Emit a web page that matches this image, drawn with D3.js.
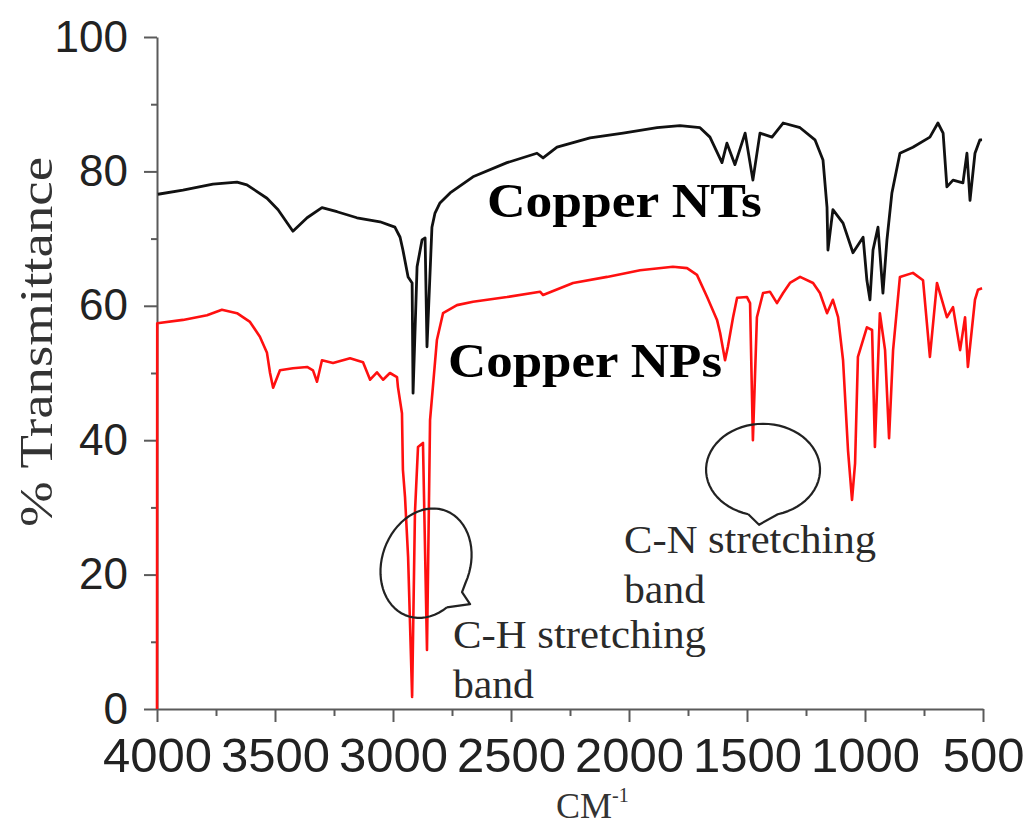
<!DOCTYPE html>
<html>
<head>
<meta charset="utf-8">
<script src="https://cdn.jsdelivr.net/npm/d3@7"></script>
<style>
  body { margin: 0; background: #fff; }
  svg { display: block; }
  .axis path, .axis line { stroke: #5a5a5a; stroke-width: 2; }
  .axis text { font-family: "Liberation Sans", Arial, sans-serif; fill: #222; }
</style>
</head>
<body>
<svg id="chart"></svg>
<script>
// wavenumber (cm-1) / % transmittance
var ntsWavenumber = [3996,3890,3763,3661,3619,3534,3487,3424,3364,3301,3237,3153,3055,2992,2970,2958,2936,2919,2915,2898,2877,2864,2856,2835,2822,2801,2758,2661,2517,2390,2364,2305,2165,2025,1881,1784,1699,1657,1606,1585,1551,1508,1475,1445,1394,1347,1275,1212,1178,1161,1157,1136,1093,1051,1008,992,979,966,945,924,907,886,852,797,725,691,669,653,627,585,568,555,534,513,504];
var ntsTransmittance = [76.6,77.2,78.1,78.4,78.0,76.0,74.3,71.1,73.1,74.6,74.0,73.1,72.5,71.7,70.2,68.3,64.3,63.4,47.0,65.8,69.8,70.1,53.9,71.7,73.8,75.3,76.8,79.2,81.3,82.7,82.0,83.6,85.0,85.7,86.5,86.8,86.5,85.1,81.3,84.2,81.0,85.7,78.7,85.7,85.1,87.2,86.5,84.7,81.7,74.7,68.3,74.3,72.3,67.9,70.2,63.8,60.9,68.3,71.7,61.9,69.8,76.8,82.7,83.6,85.1,87.2,85.7,77.7,78.7,78.3,82.7,75.7,82.7,84.7,84.7];

var npsWavenumber = [4000,3999,3890,3788,3725,3661,3606,3564,3534,3521,3508,3479,3424,3364,3339,3322,3301,3254,3182,3127,3097,3068,3042,3013,2983,2979,2962,2958,2949,2936,2919,2907,2894,2873,2856,2843,2831,2814,2788,2729,2661,2517,2377,2364,2237,2093,1953,1814,1754,1712,1669,1627,1614,1593,1581,1559,1542,1500,1487,1475,1458,1432,1403,1373,1347,1318,1275,1220,1191,1161,1136,1114,1093,1072,1055,1042,1030,992,970,958,937,915,898,881,852,797,754,725,695,653,627,597,576,564,534,521,504];
var npsTransmittance = [0,57.4,57.9,58.6,59.4,58.9,57.6,55.4,53.0,50.0,47.8,50.4,50.7,50.9,50.4,48.7,51.9,51.5,52.2,51.6,49.0,50.1,49.0,50.0,49.4,47.9,44.0,35.6,31.5,22.6,1.8,29.2,39.0,39.6,8.8,43.0,47.9,54.9,58.9,60.1,60.6,61.3,62.1,61.6,63.4,64.3,65.3,65.8,65.6,64.6,61.3,57.9,56.0,51.9,53.9,58.3,61.2,61.3,60.4,40.0,58.3,61.9,62.1,60.4,61.9,63.4,64.3,63.4,61.9,58.9,60.9,58.3,51.9,38.5,31.1,36.6,52.4,56.8,56.4,39.0,58.9,53.4,40.3,53.4,64.3,64.9,63.8,52.4,63.4,58.3,59.8,53.4,58.3,50.9,60.9,62.4,62.6];

var xTicks = [4000,3500,3000,2500,2000,1500,1000,500];
var xMinorTicks = [3750,3250,2750,2250,1750,1250,750];
var yTicks = [0,20,40,60,80,100];
var yMinorTicks = [10,30,50,70,90];

var W = 1027, H = 834;
var svg = d3.select("#chart").attr("width", W).attr("height", H);

var x = d3.scaleLinear().domain([4000, 500]).range([157, 983]);
var y = d3.scaleLinear().domain([0, 100]).range([709, 37]);

// minor ticks first
svg.append("g").attr("class", "axis")
    .attr("transform", "translate(0,709)")
    .call(d3.axisBottom(x).tickValues(xMinorTicks).tickSize(7).tickFormat(""))
    .select(".domain").remove();
svg.append("g").attr("class", "axis")
    .attr("transform", "translate(157,0)")
    .call(d3.axisLeft(y).tickValues(yMinorTicks).tickSize(6).tickFormat(""))
    .select(".domain").remove();

var gx = svg.append("g").attr("class", "axis")
    .attr("transform", "translate(0,709)")
    .call(d3.axisBottom(x).tickValues(xTicks).tickFormat(d3.format("d"))
        .tickSize(13).tickSizeOuter(0).tickPadding(15));
gx.selectAll("text").style("font-size", "49px");

var gy = svg.append("g").attr("class", "axis")
    .attr("transform", "translate(157,0)")
    .call(d3.axisLeft(y).tickValues(yTicks).tickSize(13).tickSizeOuter(0).tickPadding(16));
gy.selectAll("text").style("font-size", "44px");

// spectra
var line = d3.line()
    .x(function (d) { return x(d[0]); })
    .y(function (d) { return y(d[1]); });

svg.append("path")
    .datum(d3.zip(npsWavenumber, npsTransmittance))
    .attr("fill", "none")
    .attr("stroke", "#ff1010")
    .attr("stroke-width", 2.6)
    .attr("stroke-linejoin", "round")
    .attr("d", line);

svg.append("path")
    .datum(d3.zip(ntsWavenumber, ntsTransmittance))
    .attr("fill", "none")
    .attr("stroke", "#111")
    .attr("stroke-width", 2.8)
    .attr("stroke-linejoin", "round")
    .attr("d", line);

// series labels
function label(text, wn, t, size, weight, width, fill) {
    return svg.append("text")
        .attr("x", x(wn))
        .attr("y", y(t))
        .attr("font-family", "'Liberation Serif', 'Times New Roman', serif")
        .attr("font-size", size)
        .attr("font-weight", weight)
        .attr("fill", fill)
        .attr("textLength", width)
        .attr("lengthAdjust", "spacingAndGlyphs")
        .text(text);
}
label("Copper NTs", 2602, 73.2, 48, "bold", 275, "#000");
label("Copper NPs", 2767, 49.4, 48, "bold", 274, "#000");
label("C-H stretching", 2746, 9.1, 40, "normal", 253, "#2a2a2a");
label("band", 2746, 1.6, 40, "normal", 81, "#2a2a2a");
label("C-N stretching", 2021, 23.2, 40, "normal", 252, "#2a2a2a");
label("band", 2021, 15.8, 40, "normal", 81, "#2a2a2a");

// speech bubbles (centre in data units, radii in px, tail points in px from centre)
function bubble(wn, t, rx, ry, rot, gapFrom, gapTo, tail) {
    var cx = x(wn), cy = y(t), a = rot * Math.PI / 180;
    function pt(th) {
        var ex = rx * Math.cos(th), ey = ry * Math.sin(th);
        return [cx + ex * Math.cos(a) - ey * Math.sin(a), cy + ex * Math.sin(a) + ey * Math.cos(a)];
    }
    var t0 = gapTo * Math.PI / 180, t1 = (gapFrom + 360) * Math.PI / 180;
    var pts = d3.range(0, 61).map(function (i) { return pt(t0 + (t1 - t0) * i / 60); });
    tail.forEach(function (p) { pts.push([cx + p[0], cy + p[1]]); });
    pts.push(pts[0]);
    svg.append("path")
        .attr("d", d3.line()(pts))
        .attr("fill", "none")
        .attr("stroke", "#222")
        .attr("stroke-width", 2.2)
        .attr("stroke-linejoin", "round");
}
bubble(2860, 21.7, 44, 56, 20, 5, 38, [[36, 29], [44, 41]]);
bubble(1432, 35.6, 57, 46, 0, 75, 105, [[-4, 55]]);

// axis titles
svg.append("text")
    .attr("transform", "translate(52," + 342 + ") rotate(-90)")
    .attr("text-anchor", "middle")
    .attr("font-family", "'Liberation Serif', 'Times New Roman', serif")
    .attr("font-size", 46)
    .attr("fill", "#333")
    .attr("textLength", 370)
    .attr("lengthAdjust", "spacingAndGlyphs")
    .text("% Transmittance");

var xt = svg.append("text")
    .attr("x", 556)
    .attr("y", 818)
    .attr("font-family", "'Liberation Serif', 'Times New Roman', serif")
    .attr("font-size", 36)
    .attr("fill", "#333");
xt.append("tspan").text("CM");
xt.append("tspan").attr("font-size", 20).attr("dy", -16).text("-1");
</script>
</body>
</html>
